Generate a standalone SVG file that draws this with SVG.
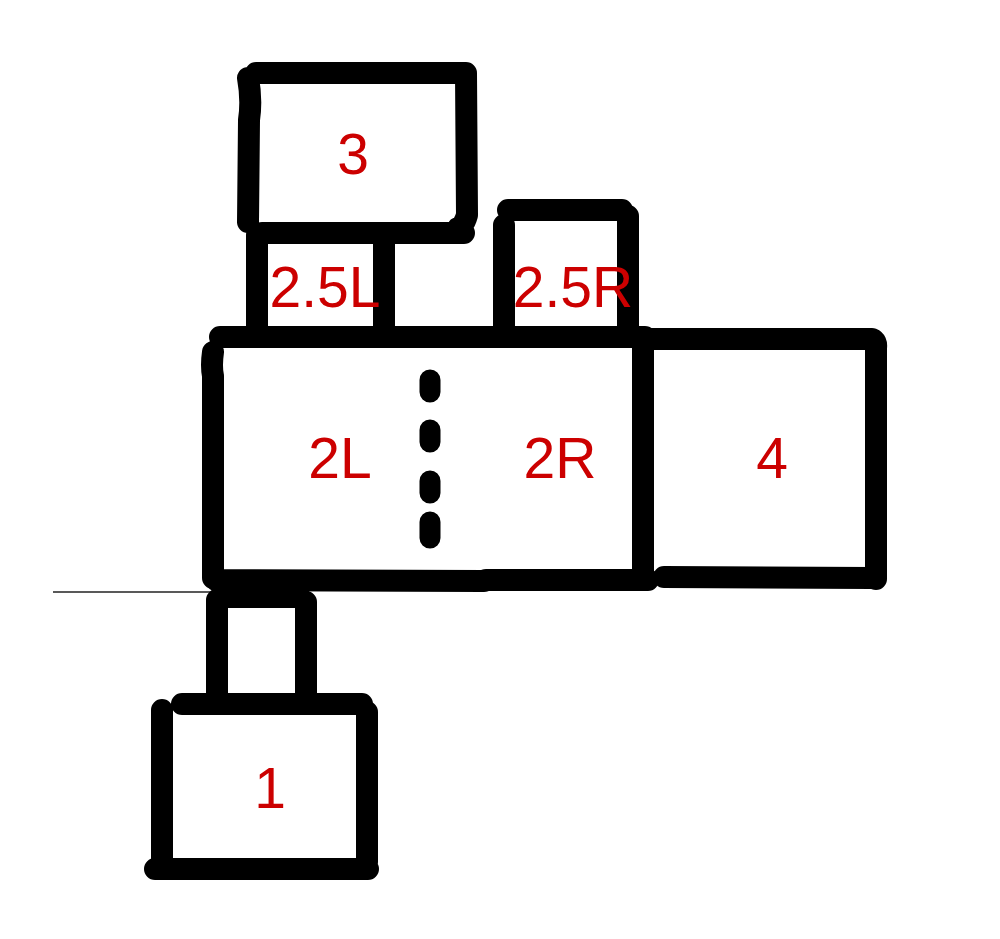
<svg xmlns="http://www.w3.org/2000/svg" width="1000" height="939" viewBox="0 0 1000 939">
<style>
.w{fill:none;stroke:#000;stroke-width:22;stroke-linecap:round;stroke-linejoin:round}
.d{fill:none;stroke:#000;stroke-width:21;stroke-linecap:round}
.t{font-family:"Liberation Sans",Arial,sans-serif;font-size:57px;fill:#cc0000;text-anchor:middle}
</style>
<rect width="1000" height="939" fill="#fff"/>
<line x1="53" y1="592" x2="212" y2="592" stroke="#222" stroke-width="1.3"/>
<g id="room3">
<path class="w" d="M248,78 Q252,100 249,120 L248,222 M256,73 L466,73 L467,215 Q464,226 458,228 M262,233 L370,233 M372,233 L464,233"/>
<text class="t" x="353" y="174">3</text>
</g>
<g id="room2_5L">
<path class="w" d="M257,235 L257,337 M384,235 L384,337"/>
<text class="t" x="325" y="307">2.5L</text>
</g>
<g id="room2_5R">
<path class="w" d="M508,210 L622,210 M504,225 L504,337 M628,216 L628,337"/>
<text class="t" x="573" y="307">2.5R</text>
</g>
<g id="room2">
<path class="w" d="M213,352 Q211,366 213,376 L213,578 M220,337 L645,337 M643,345 L643,580 M216,580 L484,581 M486,580 L648,580"/>
<path class="d" d="M430,380 L430,392 M430,430 L430,442 M430,481 L430,493 M430,522 L430,538"/>
<text class="t" x="340" y="478">2L</text>
<text class="t" x="560" y="478">2R</text>
</g>
<g id="room4">
<path class="w" d="M650,339 L872,339 Q877,341 876,348 L876,579 M664,577 L872,578"/>
<text class="t" x="772" y="478">4</text>
</g>
<g id="passage">
<path class="w" d="M217,600 L217,700 M306,602 L306,700 M220,597 L300,597"/>
</g>
<g id="room1">
<path class="w" d="M182,704 L362,704 M162,710 L162,865 M367,712 L367,862 M155,869 L368,869"/>
<text class="t" x="270" y="808">1</text>
</g>
</svg>
